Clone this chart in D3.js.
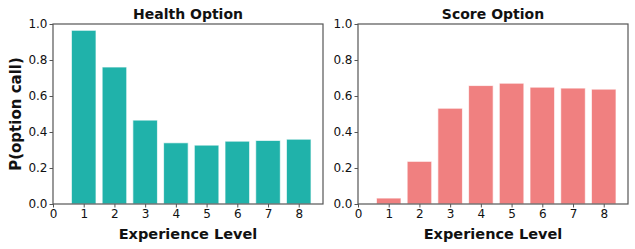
<!DOCTYPE html>
<html>
<head>
<meta charset="utf-8">
<script src="https://cdn.jsdelivr.net/npm/d3@7/dist/d3.min.js"></script>
<style>
  body { margin: 0; background: #fff; }
  svg { font-family: "DejaVu Sans", sans-serif; }
</style>
</head>
<body>
<div id="chart"></div>
<script>
// Chart data
const levels = [1, 2, 3, 4, 5, 6, 7, 8];
const xTicks = [0, 1, 2, 3, 4, 5, 6, 7, 8];
const yTicks = [0, 0.2, 0.4, 0.6, 0.8, 1.0];
const healthValues = [0.965, 0.761, 0.466, 0.340, 0.327, 0.349, 0.353, 0.360];
const scoreValues = [0.033, 0.237, 0.532, 0.658, 0.671, 0.649, 0.644, 0.638];
const panelTitles = ['Health Option', 'Score Option'];
const panelColors = ['#20b2aa', '#f08080'];

const width = 635, height = 249;
const fontFamily = '"DejaVu Sans", sans-serif';
const svg = d3.select('#chart').append('svg')
    .attr('width', width)
    .attr('height', height);

const panels = [
    { left: 53, values: healthValues, title: panelTitles[0], color: panelColors[0], ylabel: true },
    { left: 358, values: scoreValues, title: panelTitles[1], color: panelColors[1], ylabel: false }
];
const panelW = 270, plotTop = 24, plotBottom = 204;
const axisColor = '#555';

panels.forEach(p => {
    const x = d3.scaleLinear().domain([0, 8.79]).range([p.left, p.left + panelW]);
    const y = d3.scaleLinear().domain([0, 1]).range([plotBottom, plotTop]);
    const g = svg.append('g');

    // bars
    g.selectAll('rect')
        .data(levels)
        .enter().append('rect')
        .attr('x', (d) => x(d - 0.4))
        .attr('width', x(0.8) - x(0))
        .attr('y', (d, i) => y(p.values[i]))
        .attr('height', (d, i) => plotBottom - y(p.values[i]))
        .attr('fill', p.color)
        .attr('stroke', '#fff')
        .attr('stroke-opacity', 0.7)
        .attr('stroke-width', 1);

    // frame
    g.append('rect')
        .attr('x', p.left).attr('y', plotTop)
        .attr('width', panelW).attr('height', plotBottom - plotTop)
        .attr('fill', 'none')
        .attr('stroke', axisColor)
        .attr('stroke-width', 1.2);

    // axes
    const xAxis = g.append('g')
        .attr('transform', `translate(0, ${plotBottom})`)
        .call(d3.axisBottom(x).tickValues(xTicks).tickFormat(d3.format('d')).tickSize(3.5).tickPadding(2));
    const yAxis = g.append('g')
        .attr('transform', `translate(${p.left}, 0)`)
        .call(d3.axisLeft(y).tickValues(yTicks).tickFormat(d3.format('.1f')).tickSize(3.5).tickPadding(2));

    [xAxis, yAxis].forEach(a => {
        a.select('.domain').remove();
        a.selectAll('line').attr('stroke', axisColor);
        a.selectAll('text')
            .attr('fill', '#111')
            .style('font-size', '12px')
            .style('font-family', fontFamily);
    });

    // title
    g.append('text')
        .attr('x', p.left + panelW / 2)
        .attr('y', 19)
        .attr('text-anchor', 'middle')
        .style('font-size', '14px')
        .style('font-weight', 'bold')
        .attr('fill', '#111')
        .text(p.title);

    // x label
    g.append('text')
        .attr('x', p.left + panelW / 2)
        .attr('y', 239)
        .attr('text-anchor', 'middle')
        .style('font-size', '14.5px')
        .style('font-weight', 'bold')
        .attr('fill', '#111')
        .text('Experience Level');

    if (p.ylabel) {
        g.append('text')
            .attr('transform', `translate(21, ${(plotTop + plotBottom) / 2}) rotate(-90)`)
            .attr('text-anchor', 'middle')
            .style('font-size', '15px')
            .style('font-weight', 'bold')
            .attr('fill', '#111')
            .text('P(option call)');
    }
});
</script>
</body>
</html>
